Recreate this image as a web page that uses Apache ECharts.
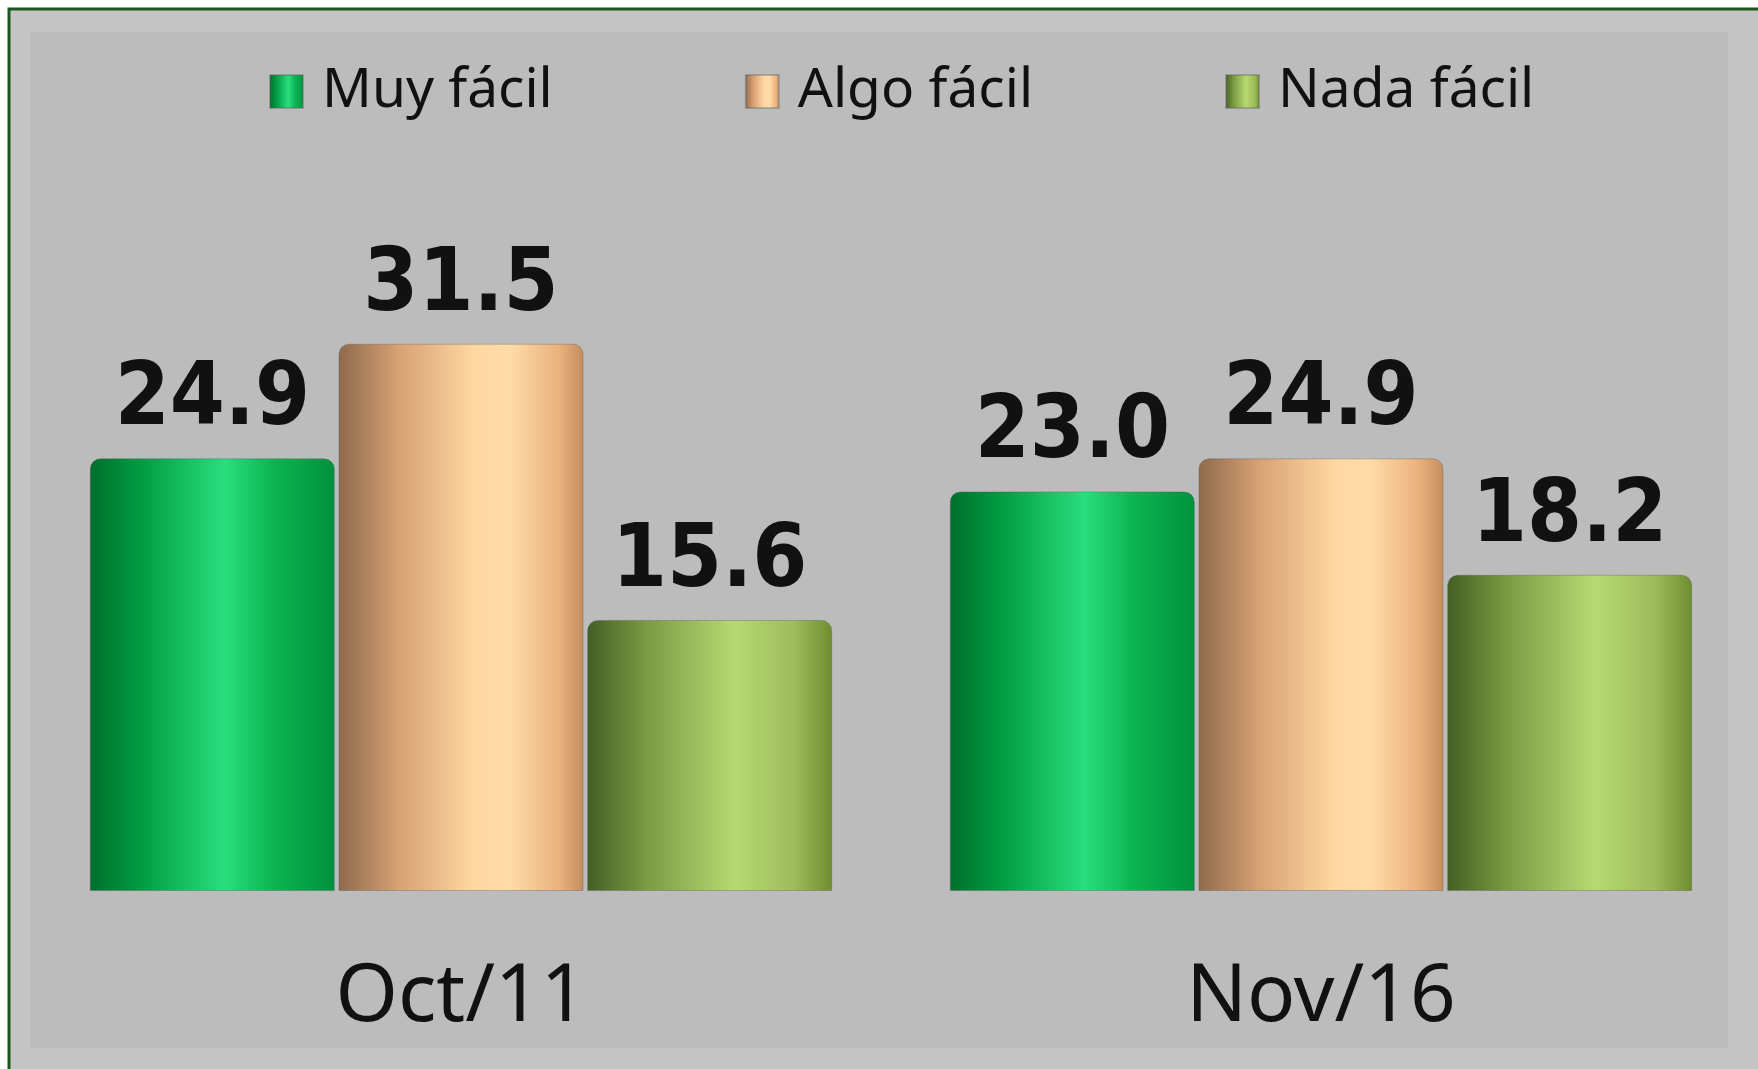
<!DOCTYPE html>
<html>
<head>
<meta charset="utf-8">
<script src="https://cdn.jsdelivr.net/npm/echarts@6/dist/echarts.min.js"></script>
<style>
  html, body { margin: 0; padding: 0; background: #ffffff; }
  #chart { width: 1758px; height: 1069px; }
</style>
</head>
<body>
<div id="chart"></div>
<script>
// Chart data
const categories = ['Oct/11', 'Nov/16'];
const seriesNames = ['Muy fácil', 'Algo fácil', 'Nada fácil'];
const muyFacil = [24.9, 23.0];
const algoFacil = [31.5, 24.9];
const nadaFacil = [15.6, 18.2];

// Cylinder-like horizontal gradients
function cyl(stops) {
  return new echarts.graphic.LinearGradient(0, 0, 1, 0,
    stops.map(([offset, color]) => ({ offset, color })));
}
const greenFill = cyl([[0, '#006f2c'], [0.2, '#009a42'], [0.55, '#2ade7e'], [0.75, '#0cb452'], [1, '#00923e']]);
const peachFill = cyl([[0, '#8e6a4c'], [0.25, '#d8a274'], [0.55, '#ffd6a2'], [0.7, '#ffdba8'], [0.9, '#eab17e'], [1, '#c48d5e']]);
const oliveFill = cyl([[0, '#435f24'], [0.25, '#7c9c44'], [0.6, '#b6d972'], [0.85, '#9cbc5a'], [1, '#6e8c2f']]);

const chart = echarts.init(document.getElementById('chart'));

function barSeries(name, data, fill) {
  return {
    name: name,
    type: 'bar',
    data: data,
    barWidth: 245,
    barGap: '1.5%',
    itemStyle: {
      color: fill,
      borderRadius: [10, 10, 0, 0],
      borderColor: 'rgba(90,90,90,0.35)',
      borderWidth: 1
    },
    label: {
      show: true,
      position: 'top',
      distance: 13,
      formatter: p => p.value.toFixed(1),
      fontFamily: 'DejaVu Sans Condensed',
      fontWeight: 'bold',
      fontSize: 88,
      color: '#111111'
    }
  };
}

const option = {
  backgroundColor: '#ffffff',
  animation: false,
  graphic: [
    {
      type: 'rect',
      z: -10,
      shape: { x: 9, y: 9, width: 1760, height: 1070 },
      style: { fill: '#c5c5c5', stroke: '#1d561d', lineWidth: 3 }
    },
    {
      type: 'rect',
      z: -9,
      shape: { x: 30, y: 32, width: 1698, height: 1016 },
      style: { fill: '#bcbcbc' }
    }
  ],
  legend: {
    left: 264,
    top: 59,
    itemWidth: 33,
    itemHeight: 33,
    itemGap: 192,
    icon: 'rect',
    data: seriesNames,
    textStyle: {
      fontFamily: 'Noto Sans',
      fontSize: 55,
      color: '#111111',
      padding: [0, 0, 0, 14]
    }
  },
  grid: {
    left: 31,
    right: 7,
    top: 196,
    bottom: 178,
    containLabel: false
  },
  xAxis: {
    type: 'category',
    data: categories,
    axisLine: { show: false },
    axisTick: { show: false },
    axisLabel: {
      margin: 67,
      fontFamily: 'Noto Sans',
      fontSize: 80,
      color: '#111111'
    }
  },
  yAxis: {
    type: 'value',
    min: 0,
    max: 40,
    show: false,
    splitLine: { show: false }
  },
  series: [
    barSeries(seriesNames[0], muyFacil, greenFill),
    barSeries(seriesNames[1], algoFacil, peachFill),
    barSeries(seriesNames[2], nadaFacil, oliveFill)
  ]
};

chart.setOption(option);
</script>
</body>
</html>
